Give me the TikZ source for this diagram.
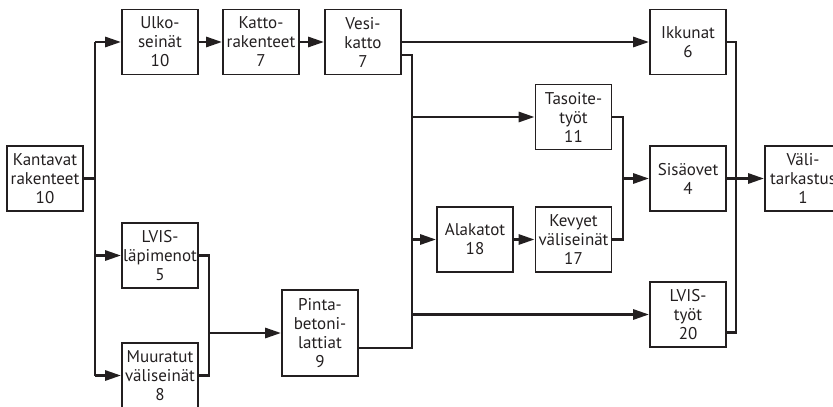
\documentclass[tikz,border=0pt]{standalone}
\usepackage{fontspec}
\setmainfont{PT Sans}
\usetikzlibrary{arrows.meta}
\definecolor{ink}{HTML}{231F20}
\tikzset{
  task/.style={draw=ink, line width=0.9pt, text=ink, align=center, inner sep=0pt,
    minimum width=38pt, minimum height=32.5pt,
    font=\fontsize{8.5}{9.5}\selectfont},
  line/.style={draw=ink, line width=1.4pt},
  arr/.style={line, -{Triangle[length=8pt,width=5pt]}}
}
\begin{document}
\begin{tikzpicture}[x=0.5pt,y=-0.5pt]
    \useasboundingbox (0,0) rectangle (833,406);

    % Tasks
    \node[task] (kant) at (45,178.5) {Kantavat\\rakenteet\\10};
    \node[task] (ulko) at (160,42) {Ulko-\\seinät\\10};
    \node[task] (katto) at (261,42) {Katto-\\rakenteet\\7};
    \node[task] (vesi) at (363,42) {Vesi-\\katto\\7};
    \node[task] (lvisl) at (160,255.5) {LVIS-\\läpimenot\\5};
    \node[task] (muur) at (160,375.5) {Muuratut\\väliseinät\\8};
    \node[task, minimum height=43pt] (pinta) at (320,333) {Pinta-\\betoni-\\lattiat\\9};
    \node[task] (taso) at (573.5,117) {Tasoite-\\työt\\11};
    \node[task] (ala) at (475,239.5) {Alakatot\\18};
    \node[task] (kev) at (573.5,239.5) {Kevyet\\väliseinät\\17};
    \node[task] (ikk) at (688,42) {Ikkunat\\6};
    \node[task] (sisa) at (688,178.5) {Sisäovet\\4};
    \node[task] (lvist) at (688,314.5) {LVIS-\\työt\\20};
    \node[task] (vali) at (803,178.5) {Väli-\\tarkastus\\1};

    % Bus lines
    \coordinate (busA) at (95,0);
    \coordinate (busB) at (209,0);
    \coordinate (busC) at (412,0);
    \coordinate (busD) at (623,0);
    \coordinate (busE) at (736,0);

    % Kantavat -> ...
    \draw[line] (kant.east) -- (kant.east -| busA);
    \draw[line] (busA |- ulko.west) -- (busA |- muur.west);
    \draw[arr] (busA |- ulko.west) -- (ulko.west);
    \draw[arr] (busA |- lvisl.west) -- (lvisl.west);
    \draw[arr] (busA |- muur.west) -- (muur.west);

    % top row
    \draw[arr] (ulko) -- (katto);
    \draw[arr] (katto) -- (vesi);
    \draw[arr] (vesi) -- (ikk);

    % -> Pintabetonilattiat
    \draw[line] (lvisl.east) -| (busB |- muur.east) -- (muur.east);
    \draw[arr] (busB |- pinta.west) -- (pinta.west);

    % Vesikatto, Pinta -> ...
    \draw[line] ([yshift=-6.5pt]vesi.east) -| ([yshift=-7.5pt]busC |- pinta.east) -- ([yshift=-7.5pt]pinta.east);
    \draw[arr] (busC |- taso.west) -- (taso.west);
    \draw[arr] (busC |- ala.west) -- (ala.west);
    \draw[arr] (busC |- lvist.west) -- (lvist.west);
    \draw[arr] (ala) -- (kev);

    % -> Sisäovet
    \draw[line] (taso.east) -| (busD |- kev.east) -- (kev.east);
    \draw[arr] (busD |- sisa.west) -- (sisa.west);

    % -> Välitarkastus
    \draw[line] (ikk.east) -| ([yshift=-9pt]busE |- lvist.east) -- ([yshift=-9pt]lvist.east);
    \draw[arr] (sisa) -- (vali);
\end{tikzpicture}
\end{document}
